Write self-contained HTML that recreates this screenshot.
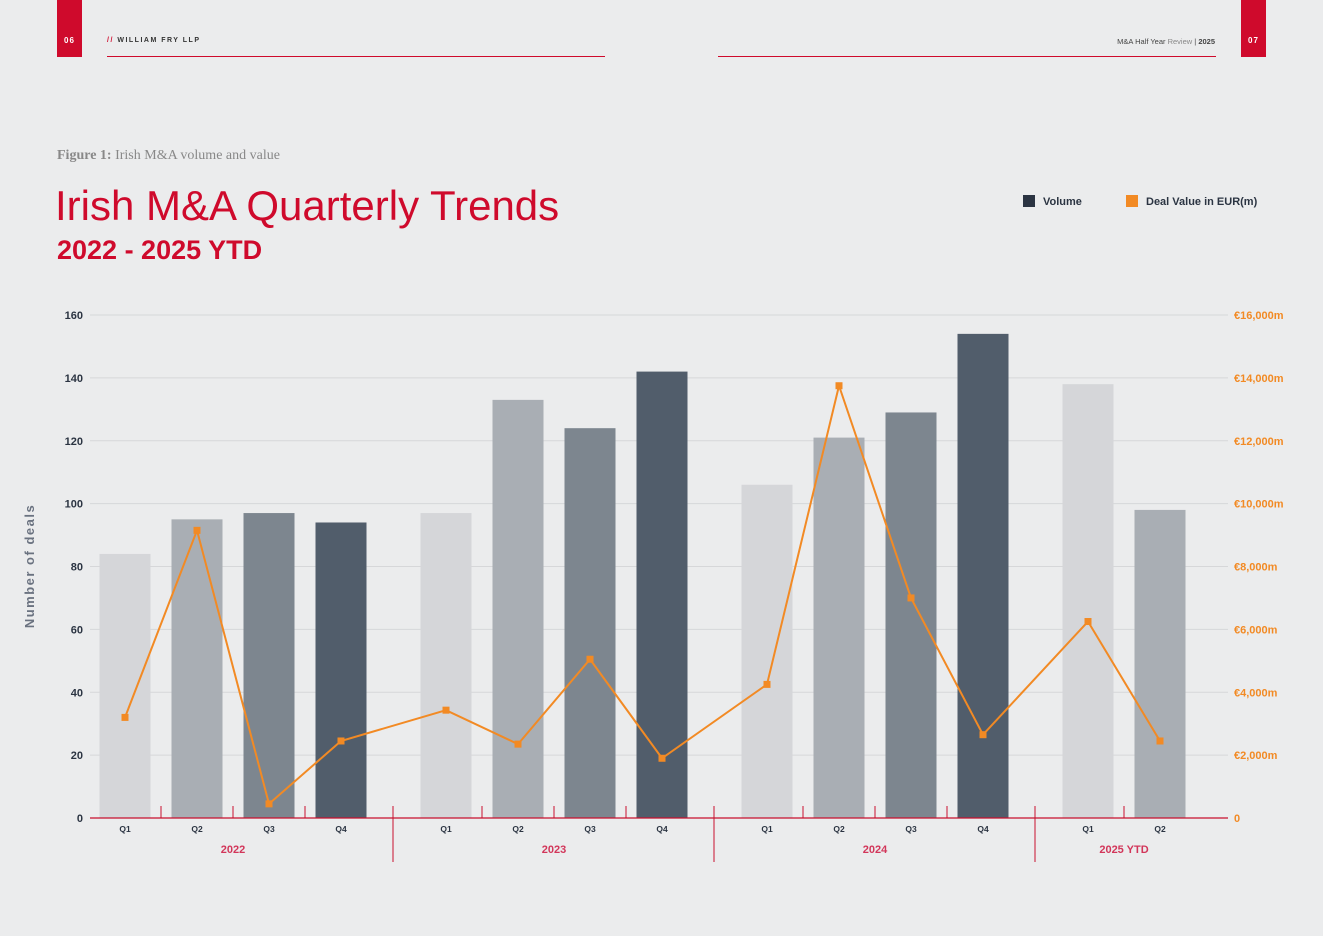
<!DOCTYPE html>
<html><head><meta charset="utf-8">
<style>
html,body{margin:0;padding:0;background:#ebeced;width:1323px;height:936px;overflow:hidden;font-family:"Liberation Sans",sans-serif;}
.abs{position:absolute;}
</style></head>
<body>
<div class="abs" style="left:57px;top:0;width:25px;height:57px;background:#cf0a2c;"></div>
<div class="abs" style="left:57px;top:36px;width:25px;text-align:center;color:#fff;font-size:8px;font-weight:bold;letter-spacing:1px;">06</div>
<div class="abs" style="left:107px;top:37px;font-size:7px;font-weight:bold;letter-spacing:1.5px;color:#333;"><span style="color:#cf0a2c">//</span> WILLIAM FRY LLP</div>
<div class="abs" style="left:107px;top:56px;width:498px;height:1px;background:#cf0a2c;"></div>
<div class="abs" style="left:718px;top:56px;width:498px;height:1px;background:#cf0a2c;"></div>
<div class="abs" style="right:108px;top:37px;font-size:7.5px;color:#444;">M&amp;A Half Year <span style="color:#888">Review</span> | <b>2025</b></div>
<div class="abs" style="left:1241px;top:0;width:25px;height:57px;background:#cf0a2c;"></div>
<div class="abs" style="left:1241px;top:36px;width:25px;text-align:center;color:#fff;font-size:8px;font-weight:bold;letter-spacing:1px;">07</div>

<div class="abs" style="left:57px;top:148px;font-family:'Liberation Serif',serif;font-size:14px;color:#888;"><b>Figure 1:</b> Irish M&amp;A volume and value</div>
<div class="abs" style="left:55px;top:182px;font-size:42px;color:#cf0a2c;font-weight:300;">Irish M&amp;A Quarterly Trends</div>
<div class="abs" style="left:57px;top:235px;font-size:27px;color:#cf0a2c;font-weight:bold;">2022 - 2025 YTD</div>

<div class="abs" style="left:1023px;top:195px;font-size:11px;font-weight:bold;color:#2b3442;"><span style="display:inline-block;width:12px;height:12px;background:#2b3442;vertical-align:-2px;margin-right:8px;"></span>Volume</div>
<div class="abs" style="left:1126px;top:195px;font-size:11px;font-weight:bold;color:#2b3442;"><span style="display:inline-block;width:12px;height:12px;background:#f28a24;vertical-align:-2px;margin-right:8px;"></span>Deal Value in EUR(m)</div>

<svg id="chart" class="abs" style="left:0;top:0" width="1323" height="936"></svg>

<script>
const years = ["2022","2023","2024","2025 YTD"];
const quarters = [["Q1","Q2","Q3","Q4"],["Q1","Q2","Q3","Q4"],["Q1","Q2","Q3","Q4"],["Q1","Q2"]];
const volume = [84,95,97,94, 97,133,124,142, 106,121,129,154, 138,98];
const dealValue = [3200,9150,450,2450, 3430,2350,5050,1900, 4250,13750,7000,2650, 6250,2450];
const leftTicks = [0,20,40,60,80,100,120,140,160];
const rightTicks = [0,2000,4000,6000,8000,10000,12000,14000,16000];
const rightTickLabels = ["0","€2,000m","€4,000m","€6,000m","€8,000m","€10,000m","€12,000m","€14,000m","€16,000m"];

const svg = document.getElementById('chart');
const NS = "http://www.w3.org/2000/svg";
const y0 = 818, yTop = 315, x0 = 90, x1 = 1228;
const yL = v => y0 - v/160*(y0-yTop);
const yR = v => y0 - v/16000*(y0-yTop);
const barX = i => { let g = 0, k = i; while (k >= quarters[g].length) { k -= quarters[g].length; g++; } return 125 + g*321 + k*72; };
const qColors = ["#d5d6d9","#a9aeb4","#7d868f","#515d6b"];
function el(tag, attrs, text){ const e=document.createElementNS(NS,tag); for(const k in attrs) e.setAttribute(k,attrs[k]); if(text!==undefined) e.textContent=text; svg.appendChild(e); return e; }

leftTicks.forEach((t,i)=>{
  const g = el('line',{x1:x0,x2:x1,y1:yL(t),y2:yL(t),stroke:'#d6d7d9','stroke-width':1});
  
  
  const l = el('text',{x:83,y:yL(t)+4,'text-anchor':'end','font-size':11,'font-weight':'bold',fill:'#2b3442'},t);
  
  
});
rightTicks.forEach((t,i)=>{
  const l = el('text',{x:1234,y:yR(t)+4,'font-size':11,'font-weight':'bold',fill:'#f28a24'},rightTickLabels[i]);
  
  
});
const yt = el('text',{x:34,y:566,'text-anchor':'middle','font-size':13,'font-weight':'bold',fill:'#6a7280','letter-spacing':1.5,transform:'rotate(-90 34 566)'},'Number of deals');



let idx=0;
quarters.forEach((qs,g)=>{
  qs.forEach((q,k)=>{
    const cx = barX(idx);
    const b = el('rect',{x:cx-25.5,y:yL(volume[idx]),width:51,height:y0-yL(volume[idx]),fill:qColors[k]});
    
    
    const ql = el('text',{x:cx,y:832,'text-anchor':'middle','font-size':8.5,'font-weight':'bold',fill:'#2b3442'},q);
    
    
    if(k<qs.length-1){
      const tk = el('line',{x1:cx+36,x2:cx+36,y1:806,y2:y0,stroke:'#c8102e','stroke-width':1});
      
      
    }
    idx++;
  });
  const first = 125+g*321, last = first+(qs.length-1)*72;
  const yl = el('text',{x:(first+last)/2,y:853,'text-anchor':'middle','font-size':11,'font-weight':'bold',fill:'#d2365a'},years[g]);
  
  
  if(g>0){
    const s = el('line',{x1:first-53,x2:first-53,y1:806,y2:862,stroke:'#c8102e','stroke-width':1});
    
    
  }
});
const ax = el('line',{x1:x0,x2:x1,y1:y0,y2:y0,stroke:'#c8102e','stroke-width':1.2});



const pts = dealValue.map((v,i)=>barX(i)+','+yR(v)).join(' ');
const line = el('polyline',{points:pts,fill:'none',stroke:'#f28a24','stroke-width':2});


dealValue.forEach((v,i)=>{
  const p = el('rect',{x:barX(i)-3.5,y:yR(v)-3.5,width:7,height:7,fill:'#f28a24'});
  
  
});
</script>
</body></html>
